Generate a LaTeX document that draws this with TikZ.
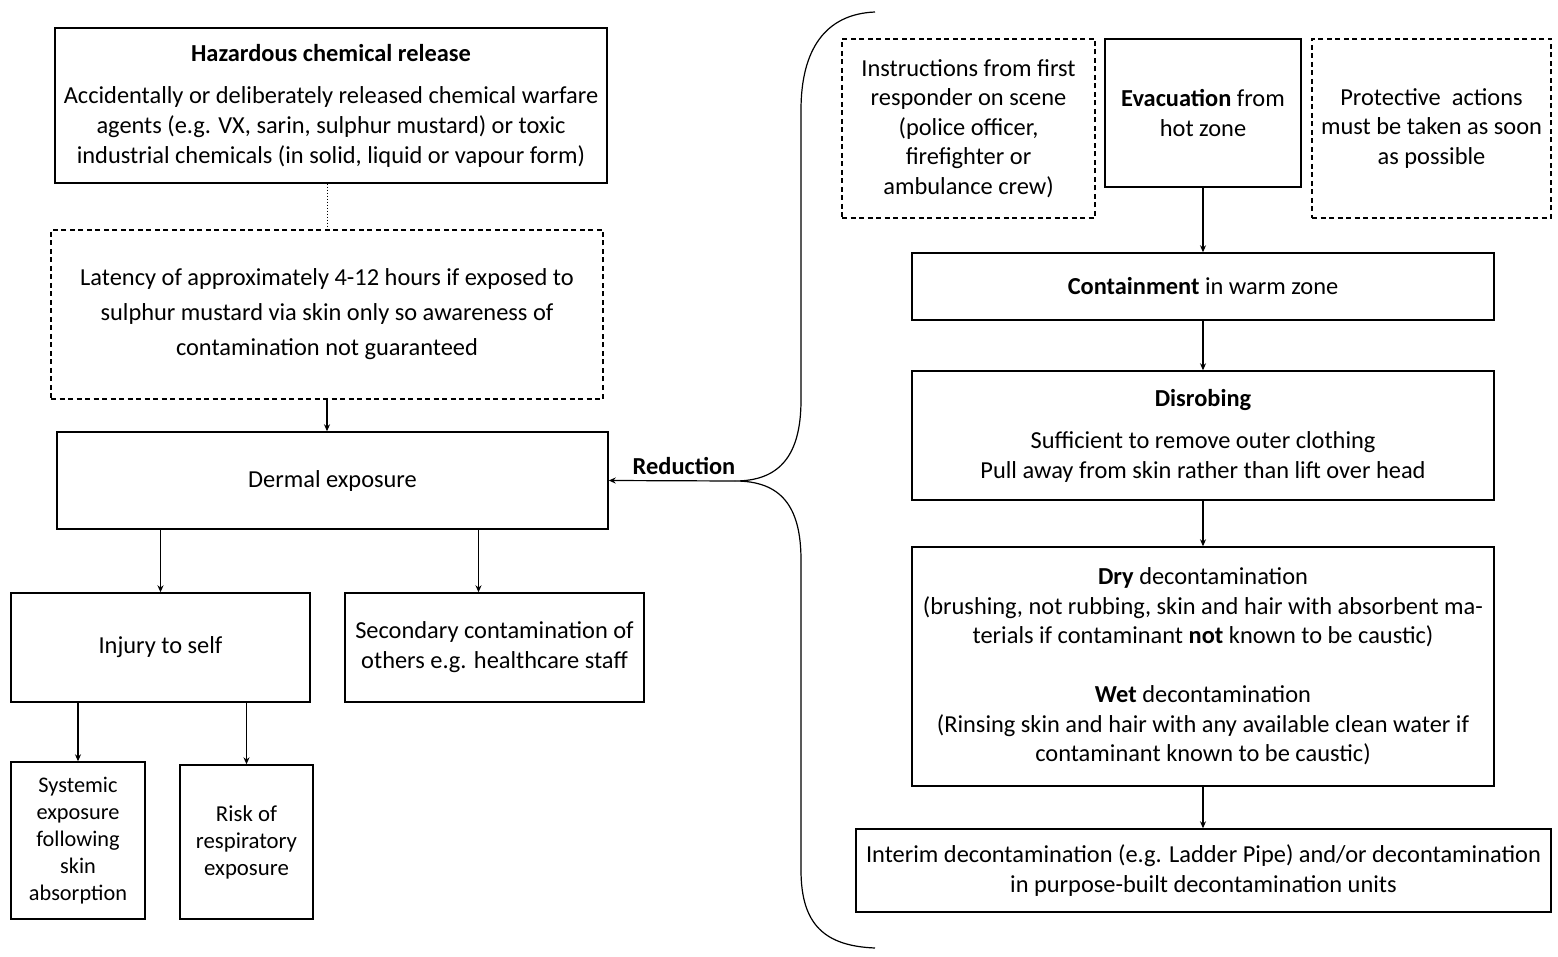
\documentclass[tikz,border=0pt]{standalone}
\usepackage{fontspec}
\setmainfont{Carlito}
\usetikzlibrary{arrows.meta,calc}
\begin{document}
\begin{tikzpicture}[x=1pt,y=-1pt,
 box/.style={draw, line width=1.4pt, inner sep=0pt, align=center, font=\fontsize{24.4}{30}\selectfont},
 dbox/.style={box, dash pattern=on 5pt off 3.5pt, line width=1.2pt},
 arr/.style={line width=1.2pt, -{Stealth[length=7pt,width=6pt]}}]
\useasboundingbox (0,0) rectangle (1558,957);
% left column
\node[box, minimum width=552pt, minimum height=155pt] (hazard) at (331,105.5)
 {\textbf{Hazardous chemical release}\\[12pt]
  Accidentally or deliberately released chemical warfare\\
  agents (e.g. VX, sarin, sulphur mustard) or toxic\\
  industrial chemicals (in solid, liquid or vapour form)};
\node[dbox, minimum width=552pt, minimum height=169pt, font=\fontsize{24.4}{35}\selectfont] (latency) at (327,314.5)
 {Latency of approximately 4-12 hours if exposed to\\
  sulphur mustard via skin only so awareness of\\
  contamination not guaranteed};
\node[box, minimum width=551pt, minimum height=97pt] (dermal) at (332.5,480.5) {Dermal exposure};
\node[box, minimum width=299pt, minimum height=109pt] (injury) at (160.5,647.5) {Injury to self};
\node[box, minimum width=299pt, minimum height=109pt] (secondary) at (494.5,647.5)
 {Secondary contamination of\\ others e.g. healthcare staff};
\node[box, minimum width=134pt, minimum height=157pt, font=\fontsize{22.3}{27}\selectfont] (systemic) at (78,840.5)
 {Systemic\\ exposure\\ following\\ skin\\ absorption};
\node[box, minimum width=133pt, minimum height=154pt, font=\fontsize{22.8}{27}\selectfont] (risk) at (246.5,842)
 {Risk of\\ respiratory\\ exposure};
% right column
\node[dbox, minimum width=253pt, minimum height=179pt, font=\fontsize{24.4}{29.5}\selectfont] (instr) at (968.5,128.5)
 {Instructions from first\\ responder on scene\\ (police officer,\\ firefighter or\\ ambulance crew)};
\node[box, minimum width=196pt, minimum height=148pt, font=\fontsize{24.4}{29.5}\selectfont] (evac) at (1203,113)
 {\textbf{Evacuation} from\\ hot zone};
\node[dbox, minimum width=239pt, minimum height=179pt, font=\fontsize{24.4}{29.5}\selectfont] (prot) at (1431.5,128.5)
 {Protective\ \ actions\\ must be taken as soon\\ as possible};
\node[box, minimum width=582pt, minimum height=67pt] (contain) at (1203,286.5)
 {\textbf{Containment} in warm zone};
\node[box, minimum width=582pt, minimum height=129pt] (disrobe) at (1203,435.5)
 {\textbf{Disrobing}\\[12pt]
  Sufficient to remove outer clothing\\
  Pull away from skin rather than lift over head};
\node[box, minimum width=582pt, minimum height=239pt, font=\fontsize{24.4}{29.5}\selectfont] (dry) at (1203,666.5)
 {\textbf{Dry} decontamination\\
  (brushing, not rubbing, skin and hair with absorbent ma-\\
  terials if contaminant \textbf{not} known to be caustic)\\[29.5pt]
  \textbf{Wet} decontamination\\
  (Rinsing skin and hair with any available clean water if\\
  contaminant known to be caustic)};
\node[box, minimum width=695pt, minimum height=83pt] (interim) at (1203.5,870.5)
 {Interim decontamination (e.g. Ladder Pipe) and/or decontamination\\
  in purpose-built decontamination units};
% left connectors
\draw[line width=1pt, dotted] (hazard.south -| latency.north) -- (latency.north);
\draw[arr] (latency.south) -- (latency.south |- dermal.north);
\draw[arr] (injury.north |- dermal.south) -- (injury.north);
\draw[arr] ([xshift=-16pt]secondary.north |- dermal.south) -- ([xshift=-16pt]secondary.north);
\draw[arr] (systemic.north |- injury.south) -- (systemic.north);
\draw[arr] (risk.north |- injury.south) -- (risk.north);
% right connectors
\draw[arr] (evac.south) -- (contain.north);
\draw[arr] (contain.south) -- (disrobe.north);
\draw[arr] (disrobe.south) -- (dry.north);
\draw[arr] (dry.south) -- (dry.south |- interim.north);
% brace
\coordinate (btop) at (875,12);
\coordinate (btip) at (735,481);
\coordinate (bbot) at (875,948);
\draw[line width=1.2pt] (btop) .. controls (825,14) and (801,50) .. (801,110) -- (801,400)
  .. controls (801,455) and (780,481) .. (btip)
  .. controls (780,481) and (801,505) .. (801,560) -- (801,870)
  .. controls (801,925) and (825,946) .. (bbot);
\node[font=\bfseries\fontsize{24.4}{26}\selectfont] (red) at (684,466) {Reduction};
\draw[arr] (btip) -- (dermal.east);
\end{tikzpicture}
\end{document}
